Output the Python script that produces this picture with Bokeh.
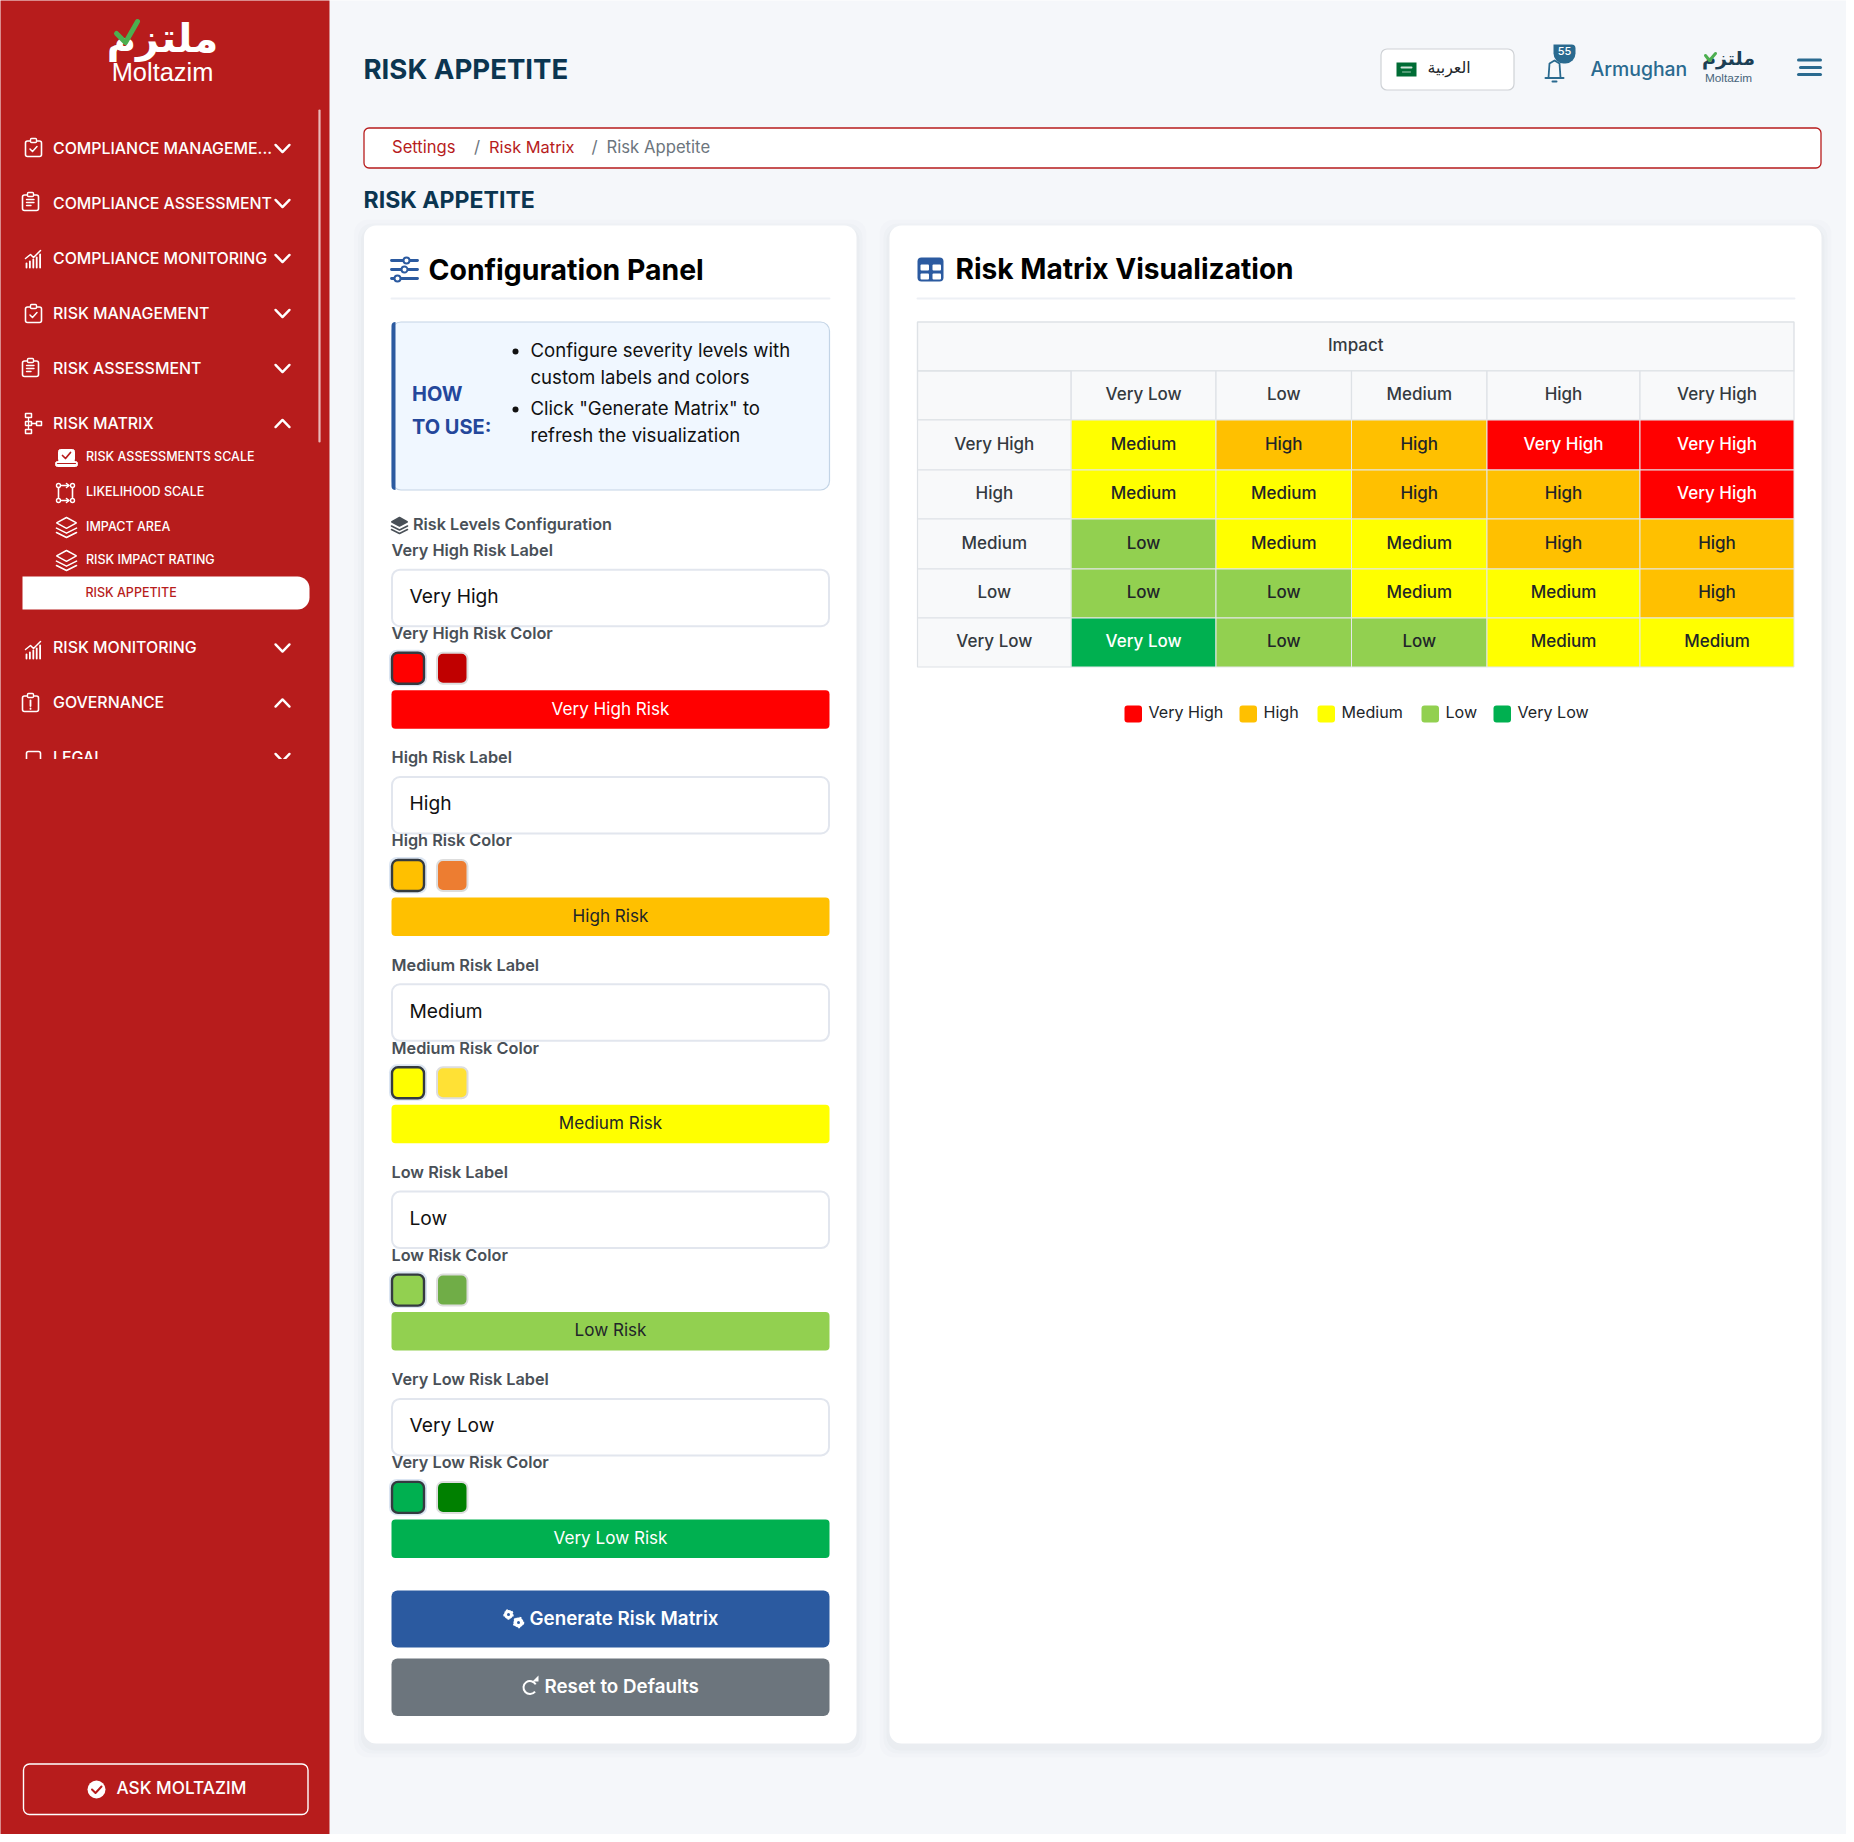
from bokeh.plotting import figure
from bokeh.models import Range1d
from bokeh.core.properties import value
from bokeh.embed import file_html
from bokeh.resources import INLINE

# ---------- data ----------
LEVELS = ["Very High", "High", "Medium", "Low", "Very Low"]
IMPACT = ["Very Low", "Low", "Medium", "High", "Very High"]
LIKELIHOOD = ["Very High", "High", "Medium", "Low", "Very Low"]
ROW_VERY_HIGH = ["Medium", "High", "High", "Very High", "Very High"]
ROW_HIGH = ["Medium", "Medium", "High", "High", "Very High"]
ROW_MEDIUM = ["Low", "Medium", "Medium", "High", "High"]
ROW_LOW = ["Low", "Low", "Medium", "Medium", "High"]
ROW_VERY_LOW = ["Very Low", "Low", "Low", "Medium", "Medium"]
MATRIX = [ROW_VERY_HIGH, ROW_HIGH, ROW_MEDIUM, ROW_LOW, ROW_VERY_LOW]
NAV_TITLES = ["COMPLIANCE MANAGEME...", "COMPLIANCE ASSESSMENT", "COMPLIANCE MONITORING",
              "RISK MANAGEMENT", "RISK ASSESSMENT", "RISK MATRIX"]
NAV_SUB = ["RISK ASSESSMENTS SCALE", "LIKELIHOOD SCALE", "IMPACT AREA", "RISK IMPACT RATING", "RISK APPETITE"]
NAV_LOWER = ["RISK MONITORING", "GOVERNANCE", "LEGAL"]
HOW_TO = ["Configure severity levels with", "custom labels and colors",
          'Click "Generate Matrix" to', "refresh the visualization"]

# ---------- style / layout ----------
COLORS = {"Very High": "#ff0000", "High": "#ffc000", "Medium": "#ffff00", "Low": "#92d050", "Very Low": "#00b050"}
ALT = {"Very High": "#c00000", "High": "#ed7d31", "Medium": "#ffe135", "Low": "#70ad47", "Very Low": "#008000"}
INK = {"Very High": "#ffffff", "High": "#212529", "Medium": "#212529", "Low": "#212529", "Very Low": "#ffffff"}
RED = "#b71c1c"; BG = "#f5f7fa"; BLUE = "#2b5aa0"; TEAL = "#2a6a8f"; NAVY = "#0b3550"
F = "Inter"; FM = "Inter Medium"; FS = "Inter SemiBold"
COL_X = [917, 1070.7, 1215.5, 1351, 1486.5, 1639.5, 1793.5]
ROW_Y = [321.5, 370.5, 419.5, 469.5, 518.5, 568.5, 617.5, 666.5]
TEXT_DY = -1.2

# 8px page margin on the left and top: 1846x1834 ends exactly at the window edge.
p = figure(width=1846, height=1834, x_range=Range1d(0, 1846), y_range=Range1d(1834, 0),
           output_backend="svg", toolbar_location=None, x_axis_location=None, y_axis_location=None,
           min_border=0, background_fill_color=BG, border_fill_color=BG, outline_line_color=None)
p.grid.visible = False


def box(x0, y0, x1, y1, fill=None, line=None, lw=1.0, r=0, alpha=1.0):
    p.quad(left=[x0], right=[x1], top=[y0], bottom=[y1], fill_color=fill, fill_alpha=alpha if fill else 0,
           line_color=line, line_width=lw, border_radius=r)


def txt(x, y, s, size, color="#212529", font=F, align="left", style="normal"):
    p.text(x=[x], y=[y + TEXT_DY], text=[s], text_font=value(font), text_font_size=f"{size}px", text_color=color,
           text_align=align, text_baseline="middle", text_font_style=style)


def ln(xs, ys, color="#ffffff", w=1.6):
    p.line(xs, ys, line_color=color, line_width=w, line_cap="round", line_join="round")


def chevron(cx, cy, up=False, color="#ffffff"):
    d = -3.6 if up else 3.6
    ln([cx - 7, cx, cx + 7], [cy - d, cy + d, cy - d], color, 2.4)


def clip_outline(x, y, c="#ffffff"):
    box(x, y + 2.5, x + 16, y + 18, None, c, 1.6, 2)
    box(x + 5, y, x + 11, y + 4, RED, c, 1.4, 1)


def ic_check(x, y):
    clip_outline(x, y)
    ln([x + 4.5, x + 7, x + 11.5], [y + 10.5, y + 13, y + 8], "#ffffff", 1.5)


def ic_doc(x, y):
    clip_outline(x, y)
    for dy, dx in ((7, 11.5), (10, 11.5), (13, 8.5)):
        ln([x + 4, x + dx], [y + dy, y + dy], "#ffffff", 1.4)


def ic_chart(x, y):
    ln([x, x + 5, x + 8, x + 15], [y + 8, y + 4, y + 7, y], "#ffffff", 1.5)
    for i, h in enumerate((4, 6, 8, 10, 13)):
        ln([x + 1 + 3.4 * i] * 2, [y + 17, y + 17 - h], "#ffffff", 1.8)


def ic_tree(x, y):
    for a, b in ((x, y), (x, y + 8), (x, y + 16)):
        box(a, b, a + 6, b + 4, None, "#ffffff", 1.5)
    box(x + 11, y + 8, x + 16, y + 12, None, "#ffffff", 1.5)
    ln([x + 3, x + 3], [y + 4, y + 16], "#ffffff", 1.3)
    ln([x + 6, x + 11], [y + 10, y + 10], "#ffffff", 1.3)


def ic_laptop(x, y):
    box(x + 3, y, x + 19, y + 12, "#ffffff", "#ffffff", 1, 2)
    ln([x + 7, x + 10, x + 15], [y + 6, y + 9, y + 3], RED, 1.7)
    box(x, y + 12, x + 22, y + 17, "#ffffff", "#ffffff", 1, 2)
    ln([x + 2, x + 20], [y + 14, y + 14], RED, 1.2)


def ic_flow(x, y):
    for a, b in ((x + 2, y + 2), (x + 16, y + 2), (x + 2, y + 17), (x + 16, y + 17)):
        p.circle([a], [b], radius=2, fill_color=None, line_color="#ffffff", line_width=1.4)
    ln([x + 2, x + 2], [y + 5, y + 14]); ln([x + 16, x + 16], [y + 5, y + 14])
    ln([x + 5, x + 12], [y + 2, y + 2]); ln([x + 5, x + 12], [y + 17, y + 17])
    ln([x + 10, x + 12.5, x + 10], [y, y + 2, y + 4]); ln([x + 10, x + 12.5, x + 10], [y + 15, y + 17, y + 19])


def ic_layers(x, y, c="#ffffff", w=20, h=20, solid=False):
    m = x + w / 2
    p.patch([x, m, x + w, m], [y + h * .27, y, y + h * .27, y + h * .54],
            fill_color=c if solid else None, line_color=c, line_width=1.5)
    ln([x, m, x + w], [y + h * .53, y + h * .78, y + h * .53], c, 1.6)
    ln([x, m, x + w], [y + h * .75, y + h, y + h * .75], c, 1.6)


# ---------- sidebar ----------
box(-3, -3, 329, 758.5, RED)
ln([319, 319], [110, 441], "#e9b9b9", 2.2)
txt(162, 39, "ملتزم", 40, "#ffffff", "DejaVu Sans", "center", "bold")
ln([116, 125, 137], [33, 42, 21], "#4caf50", 5)
txt(162, 73, "Moltazim", 25.4, "#ffffff", "Liberation Sans", "center")

NAV_Y = [149, 204, 259, 314, 369, 424]
NAV_UP = [False, False, False, False, False, True]
ICON = [ic_check, ic_doc, ic_chart, ic_check, ic_doc, ic_tree]
ICON_X = [25, 22, 25, 25, 22, 25]
ICON_Y = [138, 192, 250, 304, 358, 413]
for s, y, up, ic, ix, iy in zip(NAV_TITLES, NAV_Y, NAV_UP, ICON, ICON_X, ICON_Y):
    txt(52.5, y, s, 15.9, "#ffffff", FM)
    chevron(282, y - 1, up)
    ic(ix, iy)

SUB_Y = [457, 492, 527, 560]
for s, y in zip(NAV_SUB[:4], SUB_Y):
    txt(85.5, y, s, 12.5, "#ffffff", FM)
ic_laptop(55, 449); ic_flow(56, 483); ic_layers(56, 517); ic_layers(56, 550)
box(22, 576, 309, 609, "#ffffff", None, 0, (0, 12, 12, 0))
txt(85, 593.5, NAV_SUB[4], 12.5, RED, FM)

LOW_Y = [648.5, 703.5, 758]
for s, y, up in zip(NAV_LOWER, LOW_Y, [False, True, False]):
    txt(52.5, y, s, 15.9, "#ffffff", FM)
    chevron(282, y - 1, up)
ic_chart(25, 641)
clip_outline(22, 693)
ln([30, 30], [700, 705.5], "#ffffff", 1.8); ln([30, 30], [708, 708.4], "#ffffff", 1.8)
box(26, 751, 40, 772, None, "#ffffff", 1.6, 2)
box(-3, 758.5, 329, 1837, RED)

box(23, 1763.5, 307.5, 1814, None, "#ffffff", 1.4, 6)
p.circle([96], [1789], radius=9, fill_color="#ffffff", line_color=None)
ln([91.5, 95, 101], [1789, 1792.5, 1786], RED, 2)
txt(116, 1788.5, "ASK MOLTAZIM", 17.2, "#ffffff", FM)

# ---------- header ----------
txt(363, 69.2, "RISK APPETITE", 27.6, NAVY, F, style="bold")
box(363.5, 127.5, 1820.5, 167.5, "#ffffff", RED, 1.3, 5)
txt(391.5, 148, "Settings", 16.6, RED, F)
txt(473.5, 147.5, "/", 17, "#6c757d", F)
txt(488.5, 148, "Risk Matrix", 16.4, RED, F)
txt(591, 147.5, "/", 17, "#6c757d", F)
txt(606, 148, "Risk Appetite", 16.7, "#6c757d", F)
txt(363, 200.5, "RISK APPETITE", 23.1, NAVY, F, style="bold")

box(1380.5, 48.5, 1513.5, 89.5, "#ffffff", "#cfd2d6", 1.2, 6)
box(1396, 62, 1416, 76, "#006c35")
ln([1401, 1411], [67, 67], "#cfe3d8", 2); ln([1402, 1410], [71.5, 71.5], "#9fc9b3", 1)
txt(1427, 68, "العربية", 15.8, "#212529", "DejaVu Sans")
ln([1548, 1549, 1554, 1559, 1560], [77, 63, 60, 63, 77], TEAL, 1.8)
ln([1545, 1563], [77.5, 77.5], TEAL, 2); ln([1552, 1556], [81, 81], TEAL, 2)
box(1553, 44, 1575, 63, TEAL, None, 0, (0, 4, 10, 10))
txt(1564, 51.5, "55", 11, "#ffffff", FM, "center")
txt(1590, 70, "Armughan", 19.4, TEAL, FM)
txt(1728, 59, "ملتزم", 19, "#1c3f55", "DejaVu Sans", "center", "bold")
ln([1705, 1709, 1715], [55, 60, 53], "#4caf50", 3)
txt(1728, 79, "Moltazim", 11.8, "#47657a", "Liberation Sans", "center")
ln([1798, 1820], [59.5, 59.5], TEAL, 3); ln([1800, 1820], [67, 67], TEAL, 3); ln([1798, 1820], [74, 74], TEAL, 3)

# ---------- cards ----------
for x0, x1 in ((363.5, 856), (889, 1821)):
    for grow, a in ((10, .012), (6, .015), (3, .018)):
        box(x0 - grow, 225 - grow + 4, x1 + grow, 1743 + grow + 4, "#1a2a40", None, 0, 14, a)
    box(x0, 225, x1, 1743, "#ffffff", None, 0, 12)

# ---------- configuration panel ----------
for y, kx in ((260, 407), (269, 405), (278, 398)):
    ln([391, 417], [y, y], BLUE, 2.8)
    p.circle([kx - 1], [y], radius=3, fill_color="#ffffff", line_color=BLUE, line_width=2)
txt(428, 270, "Configuration Panel", 28.4, "#000000", F, style="bold")
ln([391, 829], [298, 298], "#edf0f5", 2)

box(391.5, 321.5, 829, 489.5, "#f0f7ff", "#c3d4e6", 1.2, 9)
box(391, 321.5, 395, 489.5, BLUE, None, 0, (4, 0, 0, 4))
txt(411.5, 395, "HOW", 20, "#24479b", F, style="bold")
txt(411.5, 428, "TO USE:", 20, "#24479b", F, style="bold")
p.circle([515, 515], [351, 409], radius=3, fill_color="#111111", line_color=None)
for s, y in zip(HOW_TO, [351, 378, 409, 436]):
    txt(530, y, s, 18.6, "#111111", F)
ic_layers(391, 517, "#495057", 16, 16, True)
txt(412.5, 525, "Risk Levels Configuration", 16.2, "#495057", FS)

for i, lv in enumerate(LEVELS):
    y0 = 550.7 + 207.3 * i
    txt(391, y0, f"{lv} Risk Label", 16.3, "#495057", FS)
    box(391.5, y0 + 18.5, 828.5, y0 + 75, "#ffffff", "#e2e6ee", 2, 8)
    txt(409, y0 + 46, lv, 19.2, "#111111", F)
    txt(391, y0 + 83, f"{lv} Risk Color", 16.3, "#495057", FS)
    box(388.5, y0 + 98.5, 426.5, y0 + 135, "#dbe5f2", None, 0, 8)
    box(391.5, y0 + 101.5, 423.5, y0 + 132.5, COLORS[lv], "#343a40", 2.4, 6)
    box(436.5, y0 + 101.5, 467, y0 + 132.5, ALT[lv], "#dddddd", 2, 6)
    box(391, y0 + 139, 829, y0 + 177.5, COLORS[lv], None, 0, 4)
    txt(610, y0 + 158, f"{lv} Risk", 17.1, INK[lv], F, "center")

box(391, 1590, 829, 1647, BLUE, None, 0, 6)
for cx, cy, r in ((508, 1614, 4.5), (518, 1622, 5)):
    p.circle([cx], [cy], radius=r, fill_color="#ffffff", line_color="#ffffff", line_width=1.5, line_dash="dotted")
    p.circle([cx], [cy], radius=1.5, fill_color=BLUE, line_color=None)
txt(529, 1619.5, "Generate Risk Matrix", 18.8, "#ffffff", FS)
box(391, 1658, 829, 1715.5, "#6c757d", None, 0, 6)
p.arc([529.5], [1687], radius=6.5, start_angle=0.5, end_angle=5.6, line_color="#ffffff", line_width=2)
p.patch([532, 538, 538], [1681, 1681, 1675], fill_color="#ffffff", line_color=None)
txt(544, 1687.5, "Reset to Defaults", 18.8, "#ffffff", FS)

# ---------- risk matrix panel ----------
box(917, 257, 943, 281, BLUE, None, 0, 4)
for a, b in ((920, 264), (932, 264), (920, 273), (932, 273)):
    box(a, b, a + 8.5, b + 6, "#ffffff", None, 0, 1)
txt(955, 270, "Risk Matrix Visualization", 28.1, "#000000", F, style="bold")
ln([917, 1794], [298, 298], "#edf0f5", 2)

GRID = "#dee2e6"; HEAD = "#f8f9fa"; HEAD_INK = "#343a40"
box(COL_X[0], ROW_Y[0], COL_X[-1], ROW_Y[1], HEAD, GRID, 1.4)
txt((COL_X[0] + COL_X[-1]) / 2, (ROW_Y[0] + ROW_Y[1]) / 2, "Impact", 17, HEAD_INK, FM, "center")
box(COL_X[0], ROW_Y[1], COL_X[1], ROW_Y[2], HEAD, GRID, 1.4)
for j, col in enumerate(IMPACT):
    box(COL_X[j + 1], ROW_Y[1], COL_X[j + 2], ROW_Y[2], HEAD, GRID, 1.2)
    txt((COL_X[j + 1] + COL_X[j + 2]) / 2, (ROW_Y[1] + ROW_Y[2]) / 2, col, 17, HEAD_INK, FM, "center")
for i, row in enumerate(LIKELIHOOD):
    y0, y1 = ROW_Y[i + 2], ROW_Y[i + 3]
    box(COL_X[0], y0, COL_X[1], y1, HEAD, GRID, 1.2)
    txt((COL_X[0] + COL_X[1]) / 2, (y0 + y1) / 2, row, 17, HEAD_INK, FM, "center")
    for j, lv in enumerate(MATRIX[i]):
        box(COL_X[j + 1], y0, COL_X[j + 2], y1, COLORS[lv], "#e4e7ea", 1)
        txt((COL_X[j + 1] + COL_X[j + 2]) / 2, (y0 + y1) / 2, lv, 17, INK[lv], FM, "center")

LEG_X = [1124, 1239, 1317, 1421, 1493]
for x, lv in zip(LEG_X, LEVELS):
    box(x, 705, x + 17.5, 722, COLORS[lv], None, 0, 3)
    txt(x + 24, 713, lv, 16.1, "#212529", F)

open("out.html", "w").write(file_html(p, INLINE))
